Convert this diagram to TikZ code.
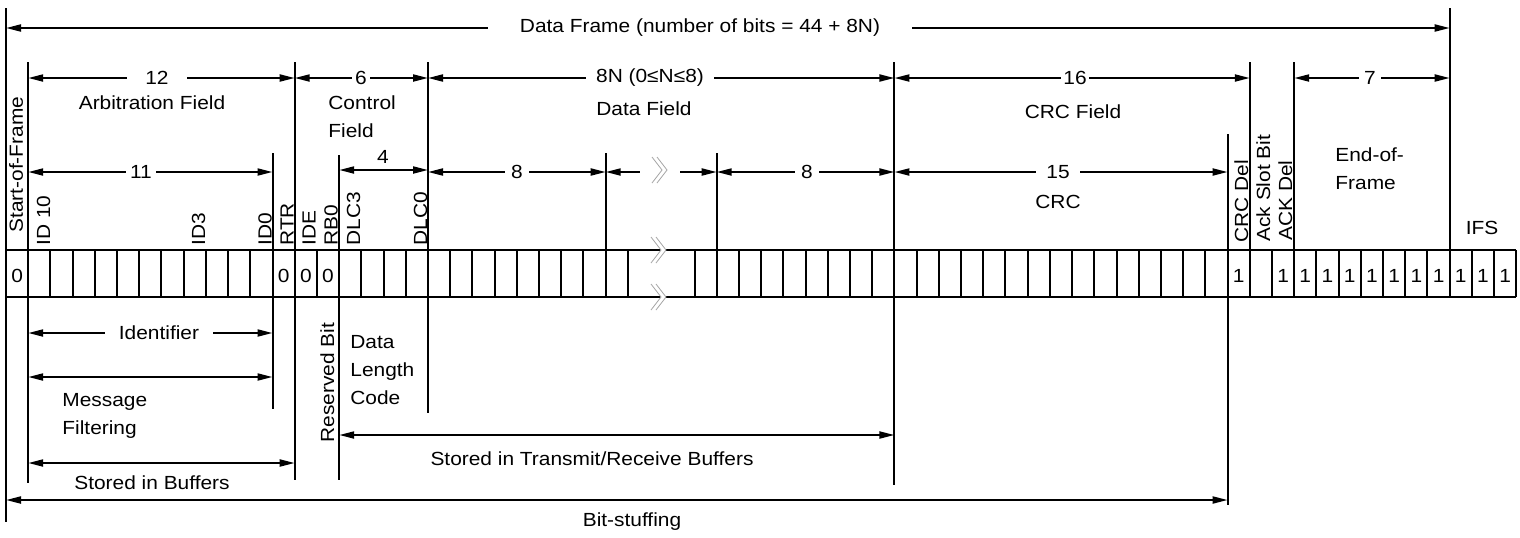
\documentclass[tikz,border=0pt]{standalone}
\usepackage{fontspec}
\setmainfont{Liberation Sans}[FakeStretch=1.1]
\usetikzlibrary{arrows.meta}
\begin{document}
\begin{tikzpicture}[x=0.5pt,y=-0.5pt,
  lw/.style={line width=1pt},
  dim/.style={line width=1pt,-{Triangle[length=7.5pt,width=3.5pt]}},
  dimb/.style={line width=1pt,{Triangle[length=7.5pt,width=3.5pt]}-{Triangle[length=7.5pt,width=3.5pt]}},
  txt/.style={font=\fontsize{9.5}{14}\selectfont, inner sep=0pt},
  lab/.style={txt, inner ysep=1pt},
  vlab/.style={txt, rotate=90, anchor=base west},
  brkmark/.pic={
    \path[fill=white] (-8,-13)--(-3,-13)--(7,0)--(-3,13)--(-8,13)--(2,0)--cycle;
    \draw[gray!70,line width=0.4pt] (-8,-13)--(2,0)--(-8,13) (-3,-13)--(7,0)--(-3,13);
  }
]
\useasboundingbox (0,0) rectangle (1520,537);
\def\cw{22.21}

% ---------- boundary lines ----------
\coordinate (b0t) at (6,8);        \coordinate (b0b) at (6,522);
\coordinate (b1t) at (28.2,62);    \coordinate (b1b) at (28.2,483);
\coordinate (b12t) at (272.5,153); \coordinate (b12b) at (272.5,409);
\coordinate (b13t) at (294.7,62);  \coordinate (b13b) at (294.7,480);
\coordinate (b15t) at (339.2,155); \coordinate (b15b) at (339.2,480);
\coordinate (b19t) at (428,62);    \coordinate (b19b) at (428,413);
\coordinate (b27t) at (605.7,153); \coordinate (b27b) at (605.7,250);
\coordinate (b32t) at (716.7,153); \coordinate (b32b) at (716.7,250);
\coordinate (b40t) at (894.4,62);  \coordinate (b40b) at (894.4,485);
\coordinate (b55t) at (1227.6,134);\coordinate (b55b) at (1227.6,505);
\coordinate (b56t) at (1249.8,62); \coordinate (b56b) at (1249.8,250);
\coordinate (b58t) at (1294.2,62); \coordinate (b58b) at (1294.2,250);
\coordinate (b65t) at (1449.7,8);  \coordinate (b65b) at (1449.7,250);
\foreach \b in {0,1,12,13,15,19,27,32,40,55,56,58,65}
  \draw[lw] (b\b t) -- (b\b b);

% ---------- bit grid ----------
\draw[lw] (6,250) -- (1516.3,250);
\draw[lw] (6,297) -- (1516.3,297);
\foreach \i in {0,...,28,31,32,...,68}
  \draw[lw] (6+\cw*\i,250) -- (6+\cw*\i,297);
\foreach \i in {0,12,13,14}
  \node[txt] (z\i) at (6+\cw*\i+\cw/2,276) {0};
\foreach \i in {55,57,58,...,67}
  \node[txt] (o\i) at (6+\cw*\i+\cw/2,276) {1};
\pic at (659,250) {brkmark};
\pic at (659,297) {brkmark};

% ---------- top dimension ----------
\node[lab, inner xsep=16pt] (tDF) at (700,28) {Data Frame (number of bits = 44 + 8N)};
\coordinate (dfL) at (6,28); \coordinate (dfR) at (1449.7,28);
\draw[dim] (tDF.west) -- (dfL);
\draw[dim] (tDF.east) -- (dfR);

% ---------- field dimensions (y=78) ----------
\node[lab, inner xsep=9pt] (t12) at (157,78) {12};
\coordinate (a12L) at (28.2,78); \coordinate (a12R) at (294.7,78);
\draw[dim] (t12.west) -- (a12L); \draw[dim] (t12.east) -- (a12R);

\node[lab, inner xsep=1.5pt] (t6) at (361,78) {6};
\coordinate (a6L) at (294.7,78); \coordinate (a6R) at (428,78);
\draw[dim] (t6.west) -- (a6L); \draw[dim] (t6.east) -- (a6R);

\node[lab, inner xsep=5pt] (t8N) at (650,78) {8N (0≤N≤8)};
\coordinate (a8NL) at (428,78); \coordinate (a8NR) at (894.4,78);
\draw[dim] (t8N.west) -- (a8NL); \draw[dim] (t8N.east) -- (a8NR);

\node[lab, inner xsep=1pt] (t16) at (1075,78) {16};
\coordinate (a16L) at (894.4,78); \coordinate (a16R) at (1249.8,78);
\draw[dim] (t16.west) -- (a16L); \draw[dim] (t16.east) -- (a16R);

\node[lab, inner xsep=2.5pt] (t7) at (1370,78) {7};
\coordinate (a7L) at (1294.2,78); \coordinate (a7R) at (1449.7,78);
\draw[dim] (t7.west) -- (a7L); \draw[dim] (t7.east) -- (a7R);

\node[txt] (fArb) at (152,103) {Arbitration Field};
\node[txt, align=left, anchor=west] (fCtl) at (328,117) {Control\\Field};
\node[txt] (fData) at (644,109) {Data Field};
\node[txt] (fCRC) at (1073,112) {CRC Field};
\node[txt, align=left, anchor=west] (fEOF) at (1335,169) {End-of-\\Frame};

% ---------- sub dimensions (y=172) ----------
\node[lab, inner xsep=2pt] (t11) at (141,172) {11};
\coordinate (a11L) at (28.2,172); \coordinate (a11R) at (272.5,172);
\draw[dim] (t11.west) -- (a11L); \draw[dim] (t11.east) -- (a11R);

\coordinate (a4L) at (339.2,170); \coordinate (a4R) at (428,170);
\draw[dimb] (a4L) -- (a4R);
\node[txt] (t4) at (383,157) {4};

\node[lab, inner xsep=3pt] (t8a) at (517,172) {8};
\coordinate (a8aL) at (428,172); \coordinate (a8aR) at (605.7,172);
\draw[dim] (t8a.west) -- (a8aL); \draw[dim] (t8a.east) -- (a8aR);

\node[inner sep=0pt, minimum width=20pt, minimum height=1pt] (tbrk) at (660,172) {};
\coordinate (abL) at (605.7,172); \coordinate (abR) at (716.7,172);
\draw[dim] (tbrk.west) -- (abL); \draw[dim] (tbrk.east) -- (abR);
\pic at (660,170) {brkmark};

\node[lab, inner xsep=3pt] (t8b) at (807,172) {8};
\coordinate (a8bL) at (716.7,172); \coordinate (a8bR) at (894.4,172);
\draw[dim] (t8b.west) -- (a8bL); \draw[dim] (t8b.east) -- (a8bR);

\node[lab, inner xsep=5pt] (t15) at (1058,172) {15};
\coordinate (a15L) at (894.4,172); \coordinate (a15R) at (1227.6,172);
\draw[dim] (t15.west) -- (a15L); \draw[dim] (t15.east) -- (a15R);

\node[txt] (fCRCb) at (1058,202) {CRC};
\node[txt] (fIFS) at (1482,228) {IFS};

% ---------- vertical bit labels ----------
\node[vlab] (lSOF) at (23,233) {Start-of-Frame};
\node[vlab] (lID10) at (50,246) {ID 10};
\node[vlab] (lID3) at (205,246) {ID3};
\node[vlab] (lID0) at (271.5,246) {ID0};
\node[vlab] (lRTR) at (293.5,246) {RTR};
\node[vlab] (lIDE) at (315.5,246) {IDE};
\node[vlab] (lRB0) at (337.5,246) {RB0};
\node[vlab] (lDLC3) at (360,246) {DLC3};
\node[vlab] (lDLC0) at (427,246) {DLC0};
\node[vlab] (lCRCD) at (1248,243) {CRC Del};
\node[vlab] (lACK) at (1270,242) {Ack Slot Bit};
\node[vlab] (lACKD) at (1292,241) {ACK Del};

% ---------- lower dimensions ----------
\node[lab, inner xsep=7pt] (tId) at (159,333) {Identifier};
\coordinate (aIdL) at (28.2,333); \coordinate (aIdR) at (272.5,333);
\draw[dim] (tId.west) -- (aIdL); \draw[dim] (tId.east) -- (aIdR);

\coordinate (aMfL) at (28.2,377); \coordinate (aMfR) at (272.5,377);
\draw[dimb] (aMfL) -- (aMfR);
\node[txt, align=left, anchor=west] (tMf) at (62,416) {Message\\Filtering};

\coordinate (aSbL) at (28.2,463); \coordinate (aSbR) at (294.7,463);
\draw[dimb] (aSbL) -- (aSbR);
\node[txt] (tSb) at (152,483) {Stored in Buffers};

\node[vlab] (lRes) at (334,443) {Reserved Bit};
\node[txt, align=left, anchor=west] (tDLC) at (350,370) {Data\\Length\\Code};

\coordinate (aTrL) at (339.2,435); \coordinate (aTrR) at (894.4,435);
\draw[dimb] (aTrL) -- (aTrR);
\node[txt] (tTr) at (592,459) {Stored in Transmit/Receive Buffers};

\coordinate (aBsL) at (6,500); \coordinate (aBsR) at (1227.6,500);
\draw[dimb] (aBsL) -- (aBsR);
\node[txt] (tBs) at (632,522) {Bit-stuffing};
\end{tikzpicture}
\end{document}
